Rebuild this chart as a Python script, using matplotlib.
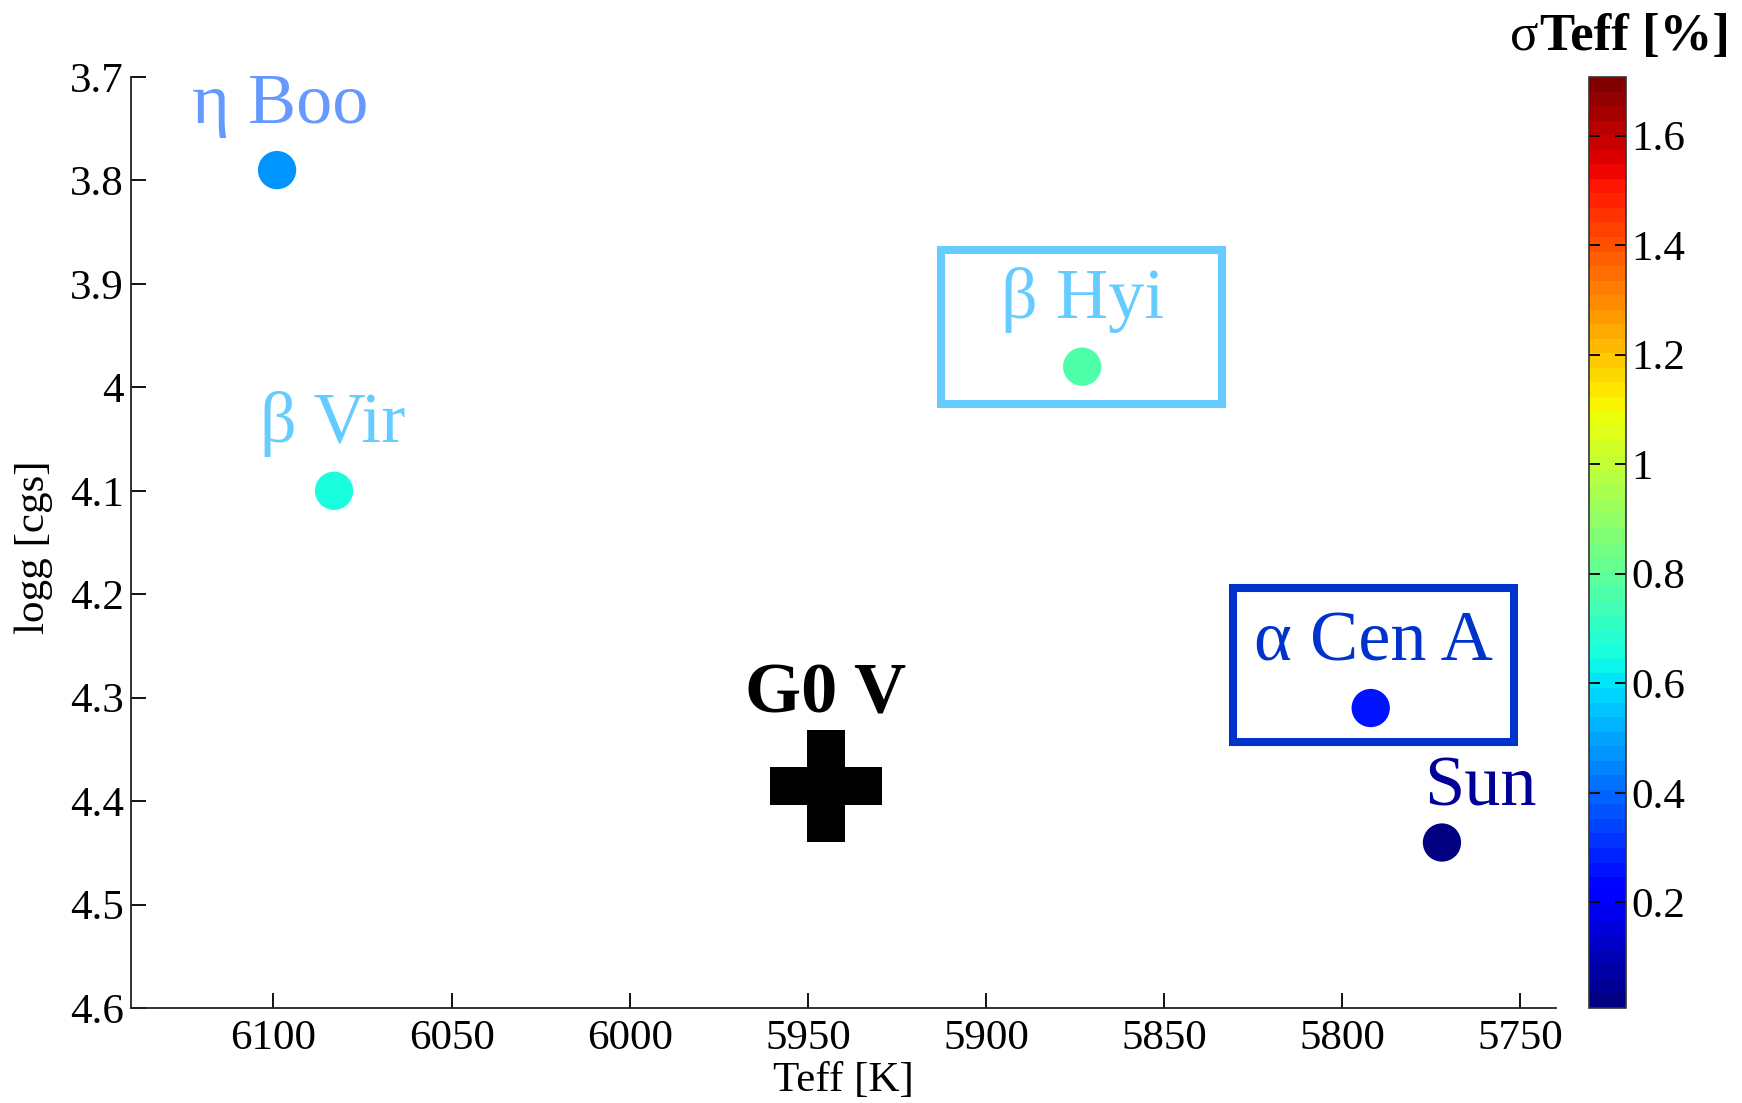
import matplotlib
matplotlib.use("Agg")
import matplotlib.pyplot as plt
import matplotlib.transforms as mtransforms
from matplotlib.patches import Rectangle
from matplotlib.offsetbox import TextArea, HPacker, AnchoredOffsetbox
import numpy as np

plt.rcParams['font.family'] = ['Liberation Serif', 'DejaVu Serif']

# Benchmark stars: effective temperature, surface gravity, Teff uncertainty
stars = ["η Boo", "β Vir", "β Hyi", "α Cen A", "Sun"]
teff = [6099, 6083, 5873, 5792, 5772]
logg = [3.79, 4.10, 3.98, 4.31, 4.44]
sigma_teff = [0.46, 0.66, 0.76, 0.26, 0.03]

# Reference spectral type
ref_name = "G0 V"
ref_teff = 5945
ref_logg = 4.385

# Colour scale limits of sigma Teff [%]
clim = (0.007, 1.707)
cbar_ticks = [0.2, 0.4, 0.6, 0.8, 1.0, 1.2, 1.4, 1.6]
cbar_ticklabels = ["0.2", "0.4", "0.6", "0.8", "1", "1.2", "1.4", "1.6"]

xticks = [6100, 6050, 6000, 5950, 5900, 5850, 5800, 5750]
yticks = [3.7, 3.8, 3.9, 4.0, 4.1, 4.2, 4.3, 4.4, 4.5, 4.6]
yticklabels = ["3.7", "3.8", "3.9", "4", "4.1", "4.2", "4.3", "4.4", "4.5", "4.6"]

# label styling: colour, offset (points) of label baseline-centre from the star
label_colors = ["#6699FF", "#66CCFF", "#66CCFF", "#0033CC", "#000099"]
label_offsets = [(2, 34), (-1, 35), (0, 35), (2, 34), (28, 27)]
boxed = [False, False, True, True, False]
box_offsets = [None, None, (-1.41, -0.373), (-1.38, -0.343), None]

fig = plt.figure(figsize=(17.42, 11.03), dpi=100)
ax = fig.add_axes([0.0752, 0.0861, 0.8180, 0.8441])
cax = fig.add_axes([0.9122, 0.0861, 0.0210, 0.8441])

cmap = plt.get_cmap("jet", 64)
sc = ax.scatter(teff, logg, c=sigma_teff, cmap=cmap, vmin=clim[0], vmax=clim[1],
                s=760, edgecolors="none", zorder=3)

ax.plot([ref_teff], [ref_logg], marker="P", markersize=80, color="black",
        markeredgewidth=0, linestyle="none", zorder=3)
ax.annotate(ref_name, xy=(ref_teff, ref_logg), xytext=(0, 53),
            textcoords="offset points", ha="center", va="baseline",
            fontsize=52, fontweight="bold", color="black")

for i, name in enumerate(stars):
    ax.annotate(name, xy=(teff[i], logg[i]), xytext=label_offsets[i],
                textcoords="offset points", ha="center", va="baseline",
                fontsize=52, color=label_colors[i], zorder=4)
    if boxed[i]:
        trans = fig.dpi_scale_trans + mtransforms.ScaledTranslation(
            teff[i], logg[i], ax.transData)
        bx, by = box_offsets[i]
        ax.add_patch(Rectangle((bx, by), 2.81, 1.54, transform=trans,
                               fill=False, edgecolor=label_colors[i],
                               linewidth=5.8, clip_on=False, zorder=2))

ax.set_xlim(6140, 5740)
ax.set_ylim(4.6, 3.7)
ax.set_xticks(xticks)
ax.set_xticklabels([str(t) for t in xticks])
ax.set_yticks(yticks)
ax.set_yticklabels(yticklabels)

for side in ("top", "right"):
    ax.spines[side].set_visible(False)
for side in ("left", "bottom"):
    ax.spines[side].set_linewidth(1.3)
    ax.spines[side].set_color("#222222")

ax.tick_params(axis="both", direction="in", length=11, width=1.3,
               labelsize=31, colors="black")
ax.tick_params(axis="x", pad=8)
ax.tick_params(axis="y", pad=5)

ax.set_xlabel("Teff [K]", fontsize=31)
ax.set_ylabel("logg [cgs]", fontsize=31)
ax.xaxis.set_label_coords(0.5, -0.057)
ax.yaxis.set_label_coords(-0.0547, 0.495)

cb = fig.colorbar(sc, cax=cax)
cb.set_ticks(cbar_ticks)
cb.set_ticklabels(cbar_ticklabels)
cb.outline.set_linewidth(1.2)
cb.outline.set_edgecolor("#333333")
cax.tick_params(axis="y", direction="in", length=8, width=1.3, labelsize=31,
                pad=4, left=True, right=True)

# colorbar title: regular sigma followed by bold "Teff [%]"
sig = TextArea("σ", textprops=dict(fontsize=38))
rest = TextArea("Teff [%]", textprops=dict(fontsize=38, fontweight="bold"))
title_box = HPacker(children=[sig, rest], align="baseline", pad=0, sep=1)
anchored = AnchoredOffsetbox(loc="upper right", child=title_box, pad=0,
                             borderpad=0, frameon=False,
                             bbox_to_anchor=(0.993, 1 - 13 / 1103),
                             bbox_transform=fig.transFigure)
fig.add_artist(anchored)

fig.savefig("out.png", dpi=100)
